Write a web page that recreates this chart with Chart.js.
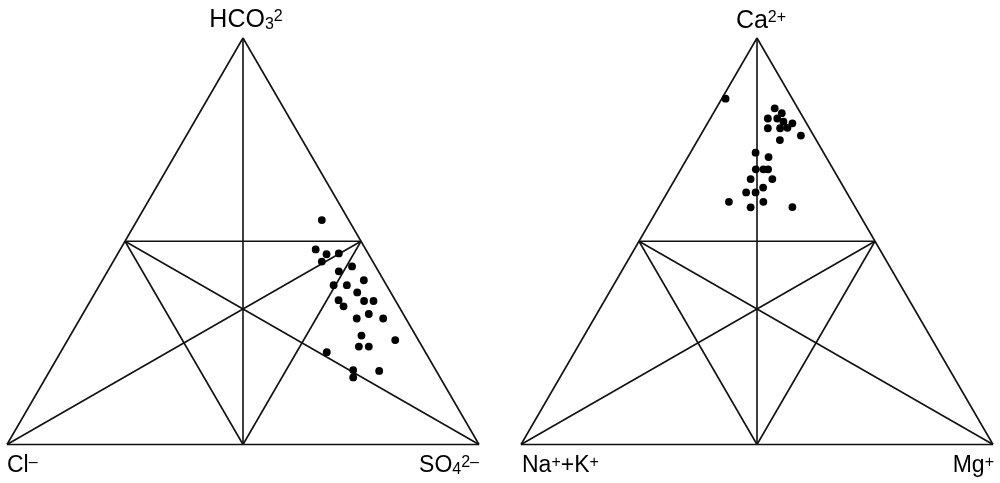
<!DOCTYPE html>
<html>
<head>
<meta charset="utf-8">
<script src="https://cdn.jsdelivr.net/npm/chart.js@4"></script>
<style>
  html, body { margin: 0; padding: 0; background: #fff; }
  #c { display: block; }
</style>
</head>
<body>
<canvas id="c" width="1000" height="483"></canvas>
<script>
// ---------- DATA (percent of each ion) ----------
// Anion triangle (left): HCO3 (top), Cl (bottom-left), SO4 (bottom-right)
const anionHCO3 = [55.2,48.0,46.8,47.0,45.0,42.6,43.8,40.4,39.2,39.2,37.4,35.5,34.0,35.3,35.3,32.1,31.0,31.0,26.8,25.7,24.1,24.1,22.7,18.1,18.3,16.5];
const anionSO4  = [39.1,41.4,44.3,46.8,44.2,49.0,51.2,55.4,49.6,52.4,55.5,52.5,54.3,58.0,60.0,60.6,58.6,64.2,61.7,69.4,62.5,64.6,56.4,69.8,64.2,65.1];
const anionCl   = [5.7,10.6,8.9,6.2,10.8,8.4,5.0,4.2,11.2,8.4,7.1,12.0,11.7,6.7,4.7,7.3,10.4,4.8,11.5,4.9,13.4,11.3,20.9,12.1,17.5,18.4];
// Cation triangle (right): Ca (top), Na+K (bottom-left), Mg (bottom-right)
const cationCa  = [85.0,82.7,81.5,80.2,80.2,79.4,79.0,77.8,77.8,77.9,76.0,74.9,71.8,70.7,67.7,67.7,67.7,65.3,65.3,63.2,62.0,62.0,59.7,59.7,58.4,58.4];
const cationMg  = [0.8,12.4,14.5,12.2,14.2,15.9,18.0,13.4,16.0,17.5,21.3,17.4,13.8,17.1,15.9,17.5,18.5,16.0,20.6,19.7,16.7,18.7,14.2,21.5,19.5,28.3];
const cationNaK = [14.1,4.9,4.0,7.6,5.6,4.7,3.0,8.8,6.2,4.6,2.7,7.7,14.4,12.2,16.4,14.8,13.8,18.7,14.1,17.1,21.3,19.3,26.1,18.8,22.2,13.3];

// ---------- LAYOUT (positions in axis units = canvas pixels) ----------
const TRI_LEFT  = { L: [7, 444.5],   R: [479, 444.5], T: [243, 38] };
const TRI_RIGHT = { L: [521, 444.5], R: [993, 444.5], T: [757, 38] };

// ternary (left, right, top) fractions -> cartesian
function tern(tri, l, r, t) {
  const s = l + r + t;
  l /= s; r /= s; t /= s;
  return {
    x: l * tri.L[0] + r * tri.R[0] + t * tri.T[0],
    y: l * tri.L[1] + r * tri.R[1] + t * tri.T[1]
  };
}

// frame geometry in ternary space (vertices and side midpoints)
const V_L = [1, 0, 0], V_R = [0, 1, 0], V_T = [0, 0, 1];
const M_B = [0.5, 0.5, 0], M_LT = [0.5, 0, 0.5], M_RT = [0, 0.5, 0.5];
const SEGMENTS = [
  [V_L, V_R], [V_R, V_T], [V_T, V_L],        // outer triangle
  [V_T, M_B], [V_L, M_RT], [V_R, M_LT],      // medians
  [M_LT, M_RT], [M_LT, M_B], [M_RT, M_B]     // inner triangle
];

function frameDatasets(tri) {
  return SEGMENTS.map(([a, b]) => ({
    type: 'scatter',
    data: [tern(tri, ...a), tern(tri, ...b)],
    showLine: true,
    borderColor: '#111',
    borderWidth: 1.6,
    pointRadius: 0,
    fill: false,
    clip: false,
    order: 2
  }));
}

const anionPts  = anionHCO3.map((h, i) => tern(TRI_LEFT, anionCl[i], anionSO4[i], h));
const cationPts = cationCa.map((c, i) => tern(TRI_RIGHT, cationNaK[i], cationMg[i], c));

function pointDataset(pts) {
  return {
    type: 'scatter',
    data: pts,
    showLine: false,
    pointRadius: 3.9,
    pointBackgroundColor: '#000',
    pointBorderWidth: 0,
    clip: false,
    order: 1
  };
}

// ---------- LABELS ----------
const FONT = '"Liberation Sans", Arial, Helvetica, sans-serif';
const LABELS = [
  { parts: [['HCO','n'],['3','sub'],['2','sup']], x: 246, y: 27, align: 'center', size: 25, small: 16 },
  { parts: [['Ca','n'],['2+','sup']],             x: 761, y: 28, align: 'center', size: 25, small: 16 },
  { parts: [['Cl','n'],['–','sup']],              x: 7,   y: 472, align: 'left',  size: 23, small: 16 },
  { parts: [['SO','n'],['4','sub'],['2–','sup']], x: 479, y: 472, align: 'right', size: 23, small: 16 },
  { parts: [['Na','n'],['+','sup'],['+K','n'],['+','sup']], x: 522, y: 472, align: 'left', size: 23, small: 16 },
  { parts: [['Mg','n'],['+','sup']],              x: 994, y: 472, align: 'right', size: 23, small: 16 }
];

const labelPlugin = {
  id: 'ternLabels',
  afterDraw(chart) {
    const ctx = chart.ctx;
    ctx.save();
    ctx.fillStyle = '#000';
    ctx.textBaseline = 'alphabetic';
    ctx.textAlign = 'left';
    LABELS.forEach(lb => {
      const fontFor = k => (k === 'n' ? lb.size : lb.small) + 'px ' + FONT;
      let total = 0;
      const widths = lb.parts.map(([t, k]) => { ctx.font = fontFor(k); const w = ctx.measureText(t).width; total += w; return w; });
      let x = lb.align === 'left' ? lb.x : lb.align === 'right' ? lb.x - total : lb.x - total / 2;
      lb.parts.forEach(([t, k], i) => {
        ctx.font = fontFor(k);
        let y = lb.y;
        if (k === 'sup') y = lb.y - 0.716 * (lb.size - lb.small);
        if (k === 'sub') y = lb.y + 1.5;
        ctx.fillText(t, x, y);
        x += widths[i];
      });
    });
    ctx.restore();
  }
};

new Chart(document.getElementById('c'), {
  type: 'scatter',
  data: {
    datasets: [
      ...frameDatasets(TRI_LEFT),
      ...frameDatasets(TRI_RIGHT),
      pointDataset(anionPts),
      pointDataset(cationPts)
    ]
  },
  options: {
    responsive: false,
    animation: false,
    devicePixelRatio: 1,
    layout: { padding: 0, autoPadding: false },
    scales: {
      x: { type: 'linear', min: 0, max: 1000, display: false },
      y: { type: 'linear', min: 0, max: 483, reverse: true, display: false }
    },
    plugins: { legend: { display: false }, tooltip: { enabled: false } },
    elements: { line: { tension: 0 } }
  },
  plugins: [labelPlugin]
});
</script>
</body>
</html>
